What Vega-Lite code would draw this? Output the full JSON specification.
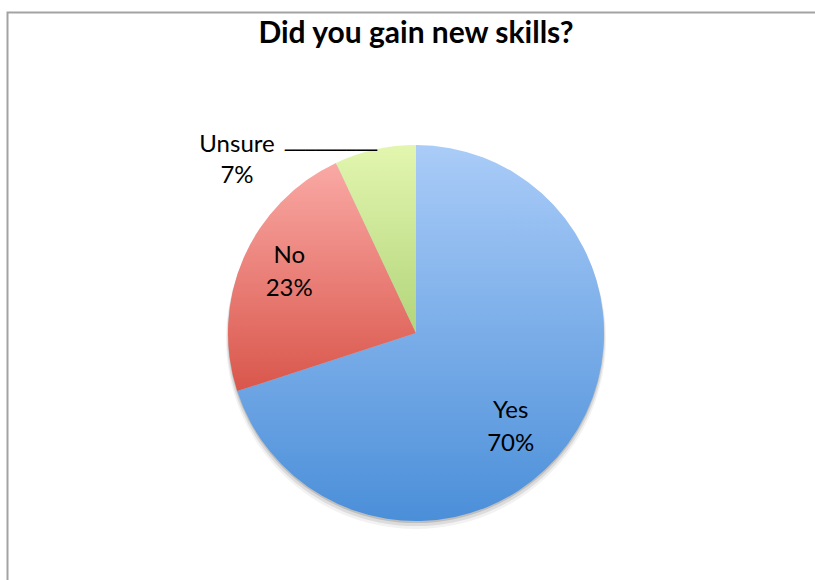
{
  "$schema": "https://vega.github.io/schema/vega-lite/v6.json",
  "width": 817,
  "height": 641,
  "autosize": "none",
  "padding": {"left": 7.5, "top": 12.5, "right": 0, "bottom": 0},
  "background": "white",
  "view": {"stroke": "#A3A3A3", "strokeWidth": 2},
  "config": {
    "view": {"stroke": "#A3A3A3", "strokeWidth": 2},
    "style": {"cell": {"stroke": "#A3A3A3", "strokeWidth": 2}},
    "text": {"font": "Lato", "fontSize": 24, "color": "black"}
  },
  "title": {
    "text": "Did you gain new skills?",
    "font": "Lato",
    "fontSize": 30,
    "fontWeight": "bold",
    "color": "black",
    "anchor": "middle",
    "baseline": "alphabetic",
    "offset": -60
  },
  "data": {
    "values": [
      {"cat": "Yes", "value": 0.70},
      {"cat": "No", "value": 0.23},
      {"cat": "Unsure", "value": 0.07}
    ]
  },
  "layer": [
    {
      "data": {"values": [{"shadow": 1}]},
      "mark": {"type": "arc", "theta": 0, "theta2": 6.2832, "radius": 190, "yOffset": 6, "fill": "#444444", "fillOpacity": 0.07}
    },
    {
      "data": {"values": [{"shadow": 1}]},
      "mark": {"type": "arc", "theta": 0, "theta2": 6.2832, "radius": 189, "yOffset": 4, "fill": "#444444", "fillOpacity": 0.12}
    },
    {
      "data": {"values": [{"shadow": 1}]},
      "mark": {"type": "arc", "theta": 0, "theta2": 6.2832, "radius": 188, "yOffset": 2, "fill": "#444444", "fillOpacity": 0.2}
    },
    {
      "mark": {"type": "arc", "radius": 188, "stroke": null},
      "encoding": {
        "theta": {"field": "value", "type": "quantitative", "stack": true},
        "order": {"field": "value", "type": "quantitative", "sort": "descending"},
        "color": {
          "condition": [
            {"test": "datum.cat === 'Yes'", "value": {"gradient": "linear", "x1": 0, "y1": 0, "x2": 0, "y2": 1, "stops": [{"offset": 0, "color": "#AACCF8"}, {"offset": 1, "color": "#4B8FD9"}]}},
            {"test": "datum.cat === 'No'", "value": {"gradient": "linear", "x1": 0, "y1": 0, "x2": 0, "y2": 1, "stops": [{"offset": 0, "color": "#FAA9A5"}, {"offset": 1, "color": "#D9564B"}]}}
          ],
          "value": {"gradient": "linear", "x1": 0, "y1": 0, "x2": 0, "y2": 1, "stops": [{"offset": 0, "color": "#E3F6AF"}, {"offset": 1, "color": "#B2D57B"}]}
        }
      }
    },
    {
      "mark": {"type": "text", "baseline": "alphabetic", "radius": 120, "dx": -2.4, "dy": 14.8},
      "encoding": {
        "theta": {"field": "value", "type": "quantitative", "stack": true},
        "order": {"field": "value", "type": "quantitative", "sort": "descending"},
        "text": {"condition": {"test": "datum.cat === 'Yes'", "field": "cat"}, "value": ""}
      }
    },
    {
      "mark": {"type": "text", "baseline": "alphabetic", "radius": 120, "dx": -2.4, "dy": 47.2},
      "encoding": {
        "theta": {"field": "value", "type": "quantitative", "stack": true},
        "order": {"field": "value", "type": "quantitative", "sort": "descending"},
        "text": {"condition": {"test": "datum.cat === 'Yes'", "field": "value", "format": ".0%"}, "value": ""}
      }
    },
    {
      "mark": {"type": "text", "baseline": "alphabetic", "radius": 140, "dx": 1.7, "dy": -14.1},
      "encoding": {
        "theta": {"field": "value", "type": "quantitative", "stack": true},
        "order": {"field": "value", "type": "quantitative", "sort": "descending"},
        "text": {"condition": {"test": "datum.cat === 'No'", "field": "cat"}, "value": ""}
      }
    },
    {
      "mark": {"type": "text", "baseline": "alphabetic", "radius": 140, "dx": 1.7, "dy": 18.6},
      "encoding": {
        "theta": {"field": "value", "type": "quantitative", "stack": true},
        "order": {"field": "value", "type": "quantitative", "sort": "descending"},
        "text": {"condition": {"test": "datum.cat === 'No'", "field": "value", "format": ".0%"}, "value": ""}
      }
    },
    {
      "mark": {"type": "text", "baseline": "alphabetic", "radius": 188, "dx": -138, "dy": 2.8},
      "encoding": {
        "theta": {"field": "value", "type": "quantitative", "stack": true},
        "order": {"field": "value", "type": "quantitative", "sort": "descending"},
        "text": {"condition": {"test": "datum.cat === 'Unsure'", "field": "cat"}, "value": ""}
      }
    },
    {
      "mark": {"type": "text", "baseline": "alphabetic", "radius": 188, "dx": -138, "dy": 33.5},
      "encoding": {
        "theta": {"field": "value", "type": "quantitative", "stack": true},
        "order": {"field": "value", "type": "quantitative", "sort": "descending"},
        "text": {"condition": {"test": "datum.cat === 'Unsure'", "field": "value", "format": ".0%"}, "value": ""}
      }
    },
    {
      "mark": {"type": "text", "baseline": "middle", "align": "right", "font": "DejaVu Sans", "fontSize": 17, "radius": 188, "dx": 2, "dy": 1},
      "encoding": {
        "theta": {"field": "value", "type": "quantitative", "stack": true},
        "order": {"field": "value", "type": "quantitative", "sort": "descending"},
        "text": {"condition": {"test": "datum.cat === 'Unsure'", "value": "─────────"}, "value": ""}
      }
    }
  ]
}
